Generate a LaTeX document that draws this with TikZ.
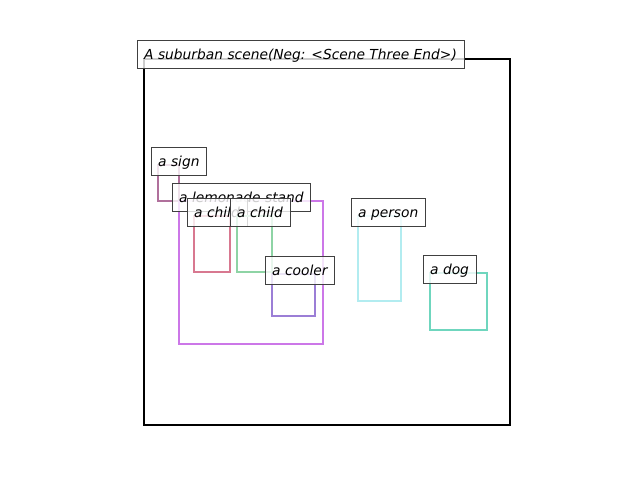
\documentclass[tikz,border=0pt]{standalone}
\usepackage{fontspec}
\setmainfont{DejaVu Sans}

\definecolor{signcol}{RGB}{176,112,156}
\definecolor{standcol}{RGB}{204,119,232}
\definecolor{childacol}{RGB}{216,120,144}
\definecolor{childbcol}{RGB}{142,212,165}
\definecolor{coolercol}{RGB}{155,126,214}
\definecolor{personcol}{RGB}{178,236,240}
\definecolor{dogcol}{RGB}{111,214,190}

\tikzset{
  objbox/.style={line width=2.3bp},
  tag/.style={
    draw=black!75,
    fill=white,
    fill opacity=0.8,
    text opacity=1,
    anchor=west,
    inner xsep=7bp,
    text height=11bp,
    text depth=0bp,
    minimum height=28bp,
    font=\fontsize{13.8bp}{16bp}\selectfont\itshape,
  },
}

\begin{document}
\begin{tikzpicture}[x=1bp, y=-1bp]
  \useasboundingbox (0,0) rectangle (640,480);
  \draw[line width=2.4bp] (144,59) rectangle (510,425);
  \node[tag] (title) at (137,54) {A suburban scene(Neg: <Scene Three End>)};
  \foreach \obj/\xa/\ya/\xb/\yb/\col/\txt in {
    sign/158/165/179/201/signcol/a sign,
    stand/179/201/323/344/standcol/a lemonade stand,
    childa/194/216/230/272/childacol/a child,
    childb/237/216/272/272/childbcol/a child,
    cooler/272/274/315/316/coolercol/a cooler,
    person/358/216/401/301/personcol/a person,
    dog/430/273/487/330/dogcol/a dog%
  } {
    \draw[objbox, \col] (\xa,\ya) rectangle (\xb,\yb);
    \node[tag] (\obj) at (\xa-7,\ya-4) {\txt};
  }
\end{tikzpicture}
\end{document}
